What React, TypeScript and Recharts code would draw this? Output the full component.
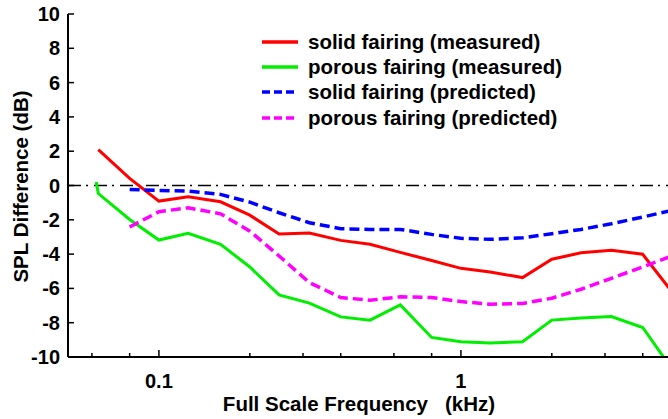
import { LineChart, Line, XAxis, YAxis, ReferenceLine, Legend } from 'recharts';

// third-octave band centres, kHz
const bandKHz = [0.063, 0.08, 0.1, 0.125, 0.16, 0.2, 0.25, 0.315, 0.4, 0.5, 0.63, 0.8, 1, 1.25, 1.6, 2, 2.5, 3.15, 4, 5];

// SPL difference in dB, one value per band (null = not computed)
const solidMeasured = [2.09, 0.41, -0.91, -0.66, -0.95, -1.73, -2.83, -2.77, -3.2, -3.43, -3.9, -4.37, -4.83, -5.04, -5.37, -4.3, -3.92, -3.78, -4.01, -6.2];
const porousMeasured = [-0.47, -1.98, -3.18, -2.79, -3.43, -4.75, -6.38, -6.86, -7.66, -7.85, -6.96, -8.86, -9.11, -9.19, -9.11, -7.85, -7.73, -7.64, -8.28, -10.7];
const solidPredicted = [null, -0.23, -0.29, -0.33, -0.52, -0.97, -1.59, -2.17, -2.52, -2.56, -2.56, -2.85, -3.08, -3.14, -3.05, -2.81, -2.56, -2.23, -1.84, -1.45];
const porousPredicted = [null, -2.42, -1.53, -1.3, -1.65, -2.66, -4.11, -5.66, -6.53, -6.69, -6.49, -6.53, -6.77, -6.92, -6.88, -6.57, -6.05, -5.41, -4.75, -4.1];

// porous measurement begins with a short step just below the first band
const porousLeadKHz = 0.062;
const porousLeadDb = 0.2;

const xTicks = [0.05, 0.06, 0.07, 0.08, 0.09, 0.1, 0.2, 0.3, 0.4, 0.5, 0.6, 0.7, 0.8, 0.9, 1, 2, 3, 4, 5];
const xMajor: Record<string, string> = { '0.1': '0.1', '1': '1' };
const yTicks = [-10, -8, -6, -4, -2, 0, 2, 4, 6, 8, 10];

const FONT = '"Liberation Sans", Arial, Helvetica, sans-serif';

const toPoints = (vals: (number | null)[]) => bandKHz.map((f, i) => ({ f, v: vals[i] }));

const solidMeasuredData = toPoints(solidMeasured);
const porousMeasuredData = [{ f: porousLeadKHz, v: porousLeadDb }, ...toPoints(porousMeasured)];
const solidPredictedData = toPoints(solidPredicted);
const porousPredictedData = toPoints(porousPredicted);

const series = [
  { name: 'solid fairing (measured)', color: '#ff0000', dashed: false, data: solidMeasuredData },
  { name: 'porous fairing (measured)', color: '#00ee00', dashed: false, data: porousMeasuredData },
  { name: 'solid fairing (predicted)', color: '#0000ff', dashed: true, data: solidPredictedData },
  { name: 'porous fairing (predicted)', color: '#ff00ff', dashed: true, data: porousPredictedData },
];

function BottomTick({ x, y, payload }: any) {
  const label = xMajor[String(payload.value)];
  return (
    <g>
      <line x1={x} x2={x} y1={y} y2={y - (label ? 7 : 4)} stroke="#000" strokeWidth={1.5} />
      {label && (
        <text x={x} y={y + 31} textAnchor="middle" fontSize={20} fontWeight="bold" fontFamily={FONT} fill="#000">
          {label}
        </text>
      )}
    </g>
  );
}

function TopTick({ x, y, payload }: any) {
  const major = xMajor[String(payload.value)];
  return <line x1={x} x2={x} y1={y} y2={y + (major ? 7 : 4)} stroke="#000" strokeWidth={1.5} />;
}

function LeftTick({ x, y, payload }: any) {
  return (
    <g>
      <line x1={x} x2={x + 6} y1={y} y2={y} stroke="#000" strokeWidth={1.5} />
      <text x={x - 8} y={y} textAnchor="end" dominantBaseline="central" fontSize={20} fontWeight="bold" fontFamily={FONT} fill="#000">
        {payload.value}
      </text>
    </g>
  );
}

function RightTick({ x, y }: any) {
  return <line x1={x} x2={x - 6} y1={y} y2={y} stroke="#000" strokeWidth={1.5} />;
}

function LegendBox() {
  return (
    <div style={{ fontFamily: FONT, fontWeight: 'bold', fontSize: 20.5, color: '#000' }}>
      {series.map((s) => (
        <div key={s.name} style={{ display: 'flex', alignItems: 'center', height: 25.3 }}>
          <svg width={52} height={10}>
            <line x1={6} x2={42} y1={5} y2={5} stroke={s.color} strokeWidth={3.5} strokeDasharray={s.dashed ? '8 4' : undefined} />
          </svg>
          <span style={{ whiteSpace: 'nowrap' }}>{s.name}</span>
        </div>
      ))}
    </div>
  );
}

export default function App() {
  return (
    <div style={{ position: 'absolute', left: 0, top: 0, width: 668, height: 419, overflow: 'hidden', background: '#fff' }}>
      <LineChart width={680} height={419} margin={{ top: 14, right: 8, bottom: 0, left: 0 }}>
        <XAxis
          dataKey="f"
          type="number"
          scale="log"
          domain={[0.05, 5]}
          allowDataOverflow
          ticks={xTicks}
          height={62}
          tickSize={0}
          tickMargin={0}
          tick={<BottomTick />}
          axisLine={{ stroke: '#000', strokeWidth: 2 }}
          label={({ viewBox }: any) => (
            <text
              x={viewBox.x + viewBox.width / 2 - 11}
              y={viewBox.y + 54}
              textAnchor="middle"
              fontSize={20.5}
              fontWeight="bold"
              fontFamily={FONT}
              fill="#000"
              style={{ whiteSpace: 'pre' }}
            >
              {'Full Scale Frequency   (kHz)'}
            </text>
          )}
        />
        <XAxis
          xAxisId="top"
          orientation="top"
          dataKey="f"
          type="number"
          scale="log"
          domain={[0.05, 5]}
          allowDataOverflow
          ticks={xTicks}
          height={0}
          tickSize={0}
          tickMargin={0}
          tick={<TopTick />}
          axisLine={{ stroke: '#000', strokeWidth: 2 }}
        />
        <YAxis
          type="number"
          domain={[-10, 10]}
          allowDataOverflow
          ticks={yTicks}
          width={68}
          tickSize={0}
          tickMargin={0}
          tick={<LeftTick />}
          axisLine={{ stroke: '#000', strokeWidth: 2 }}
          label={({ viewBox }: any) => (
            <text
              transform={`translate(${viewBox.x + 20}, ${viewBox.y + viewBox.height / 2 + 1}) rotate(-90)`}
              textAnchor="middle"
              dominantBaseline="central"
              fontSize={20.5}
              fontWeight="bold"
              fontFamily={FONT}
              fill="#000"
            >
              SPL Difference (dB)
            </text>
          )}
        />
        <YAxis
          yAxisId="right"
          orientation="right"
          type="number"
          domain={[-10, 10]}
          allowDataOverflow
          ticks={yTicks}
          width={0}
          tickSize={0}
          tickMargin={0}
          tick={<RightTick />}
          axisLine={{ stroke: '#000', strokeWidth: 2 }}
        />
        <ReferenceLine y={0} stroke="#000" strokeWidth={1.5} strokeDasharray="13 5 2 6" />
        {series.map((s) => (
          <Line
            key={s.name}
            data={s.data}
            dataKey="v"
            name={s.name}
            type="linear"
            stroke={s.color}
            strokeWidth={s.dashed ? 3.5 : 3}
            strokeDasharray={s.dashed ? '10 5' : undefined}
            dot={false}
            activeDot={false}
            isAnimationActive={false}
          />
        ))}
        <Legend
          layout="horizontal"
          align="center"
          verticalAlign="middle"
          wrapperStyle={{ left: 256, top: 29, width: 'auto' }}
          content={<LegendBox />}
        />
      </LineChart>
    </div>
  );
}
